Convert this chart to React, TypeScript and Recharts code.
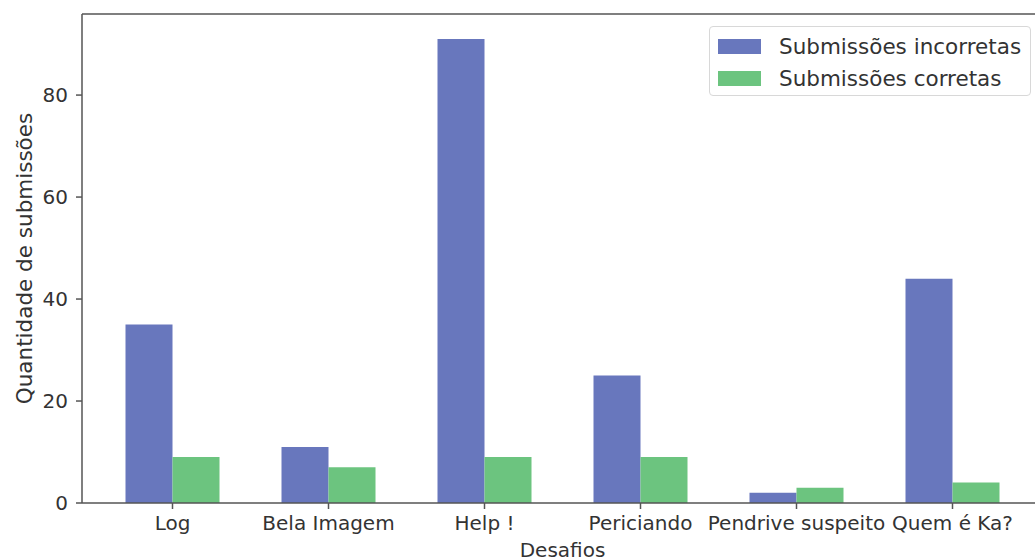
import React from 'react';
import { BarChart, Bar, XAxis, YAxis, ReferenceLine } from 'recharts';

const desafios = ['Log', 'Bela Imagem', 'Help !', 'Periciando', 'Pendrive suspeito', 'Quem é Ka?'];
const incorretas = [35, 11, 91, 25, 2, 44];
const corretas = [9, 7, 9, 9, 3, 4];
const yTicks = [0, 20, 40, 60, 80];
const Y_MAX = 95.9;

const BLUE = '#6877bd';
const GREEN = '#6cc47f';
const FONT = '"DejaVu Sans", sans-serif';
const TEXT = '#333';

const data = desafios.map((name, i) => ({
  name,
  incorretas: incorretas[i],
  corretas: corretas[i],
}));

const series = [
  { label: 'Submissões incorretas', color: BLUE },
  { label: 'Submissões corretas', color: GREEN },
];

// legend drawn as an overlay so it doesn't eat plot width
const LegendBox: React.FC = () => (
  <div
    style={{
      position: 'absolute',
      left: 709,
      top: 26,
      width: 322,
      height: 70,
      boxSizing: 'border-box',
      border: '1px solid #d8d8d8',
      borderRadius: 4,
      background: 'rgba(255,255,255,0.85)',
      padding: '3px 0 0 8px',
      fontFamily: FONT,
      fontSize: 21.5,
      color: TEXT,
    }}
  >
    {series.map((s) => (
      <div key={s.label} style={{ display: 'flex', alignItems: 'center', height: 32 }}>
        <span style={{ display: 'inline-block', width: 43, height: 15, background: s.color, marginRight: 18 }} />
        <span style={{ whiteSpace: 'nowrap' }}>{s.label}</span>
      </div>
    ))}
  </div>
);

const App: React.FC = () => {
  return (
    <div
      style={{
        position: 'absolute',
        left: 0,
        top: 0,
        width: 1035,
        height: 560,
        overflow: 'hidden',
        background: '#fff',
      }}
    >
      <BarChart
        width={1043}
        height={560}
        data={data}
        margin={{ top: 14, right: 0, bottom: 0, left: 0 }}
        barGap={0}
        barSize={47}
      >
        <XAxis
          dataKey="name"
          height={57}
          padding={{ left: 12.5, right: 12.5 }}
          stroke="#555"
          strokeWidth={1.5}
          tickSize={6}
          tickMargin={7}
          interval={0}
          tick={{ fill: TEXT, fontSize: 20, fontFamily: FONT }}
          label={{
            value: 'Desafios',
            position: 'insideBottom',
            offset: 3,
            fill: TEXT,
            fontSize: 20,
            fontFamily: FONT,
          }}
        />
        <YAxis
          width={82}
          domain={[0, Y_MAX]}
          ticks={yTicks}
          stroke="#555"
          strokeWidth={1.5}
          tickSize={6}
          tickMargin={8}
          tick={{ fill: TEXT, fontSize: 20, fontFamily: FONT }}
          label={{
            value: 'Quantidade de submissões',
            angle: -90,
            position: 'insideLeft',
            offset: 24,
            style: { textAnchor: 'middle' },
            fill: TEXT,
            fontSize: 21.5,
            fontFamily: FONT,
          }}
        />
        <ReferenceLine y={Y_MAX} stroke="#555" strokeWidth={1.5} />
        <Bar dataKey="incorretas" name="Submissões incorretas" fill={BLUE} isAnimationActive={false} />
        <Bar dataKey="corretas" name="Submissões corretas" fill={GREEN} isAnimationActive={false} />
      </BarChart>
      <LegendBox />
    </div>
  );
};

export default App;
